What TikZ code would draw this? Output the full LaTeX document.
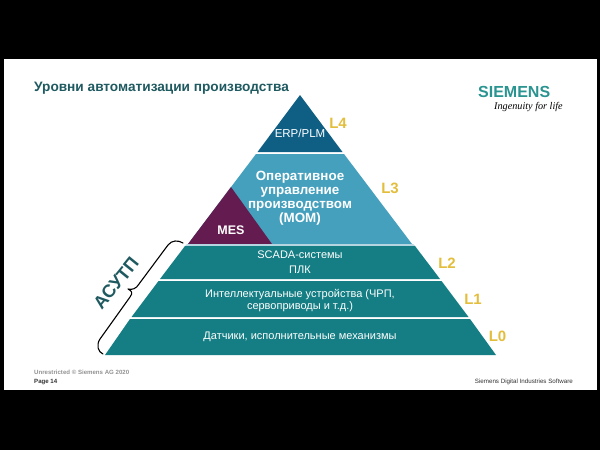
\documentclass[tikz,border=0pt]{standalone}
\usepackage{fontspec}
\setmainfont{Liberation Sans}
\newfontfamily\serifit{Liberation Serif}
\definecolor{erpc}{HTML}{0F5F85}
\definecolor{momc}{HTML}{45A0BE}
\definecolor{mesc}{HTML}{641C50}
\definecolor{tealc}{HTML}{147E84}
\definecolor{gapc}{HTML}{B5D6E0}
\definecolor{goldc}{HTML}{E3BE3C}
\definecolor{titlec}{HTML}{1F5A60}
\definecolor{logoc}{HTML}{2A9490}
\tikzset{
  lay/.style={fill=#1,draw=none},
  fs/.style={font=\fontsize{#1}{#1}\selectfont},
  ptext/.style={text=white,align=center,inner sep=0pt},
  lev/.style={text=goldc,inner sep=0pt,font=\fontsize{15}{15}\selectfont\bfseries},
  foot/.style={inner sep=0pt,anchor=west},
}
\begin{document}
\begin{tikzpicture}[x=1pt,y=-1pt]
\useasboundingbox (0,0) rectangle (600,450);
\fill[black] (0,0) rectangle (600,450);
\fill[white] (4,59) rectangle (597,390);
% layers
\fill[lay=erpc] (300,95) -- (257.5,152) -- (342.5,152) -- cycle;
\fill[lay=momc] (256,154) -- (344,154) -- (412,244) -- (188,244) -- cycle;
\fill[lay=mesc] (231,187) -- (272,244) -- (188,244) -- cycle;
\fill[lay=gapc] (187,244) -- (413,244) -- (415,246) -- (185,246) -- cycle;
\fill[lay=tealc] (185,246) -- (415,246) -- (440,279) -- (160,279) -- cycle;
\fill[lay=tealc] (158.5,281) -- (441.5,281) -- (468.5,317) -- (131.5,317) -- cycle;
\fill[lay=tealc] (130,319) -- (470,319) -- (496,355) -- (105,355) -- cycle;
% labels
\node[ptext,fs=11.5] (erp) at (300,133) {ERP/PLM};
\node[ptext,font=\fontsize{13.4}{14}\selectfont\bfseries] (mom) at (300,198.5) {Оперативное\\управление\\производством\\(MOM)};
\node[ptext,font=\fontsize{12.5}{12.5}\selectfont\bfseries] (mes) at (231,230) {MES};
\node[ptext,fs=11] (scada) at (300,254.5) {SCADA-системы};
\node[ptext,fs=11] (plk) at (300,270) {ПЛК};
\node[ptext,font=\fontsize{11}{12}\selectfont] (ied) at (300,300.5) {Интеллектуальные устройства (ЧРП,\\сервоприводы и т.д.)};
\node[ptext,fs=11] (sens) at (300,337) {Датчики, исполнительные механизмы};
\node[lev] (l4) at (338,123) {L4};
\node[lev] (l3) at (390,188) {L3};
\node[lev] (l2) at (447,263) {L2};
\node[lev] (l1) at (473,299) {L1};
\node[lev] (l0) at (497.5,336) {L0};
% title
\node[inner sep=0pt,anchor=west,text=titlec,font=\fontsize{13.65}{13.65}\selectfont\bfseries] (title) at (34,88) {Уровни автоматизации производства};
% logo
\node[inner sep=0pt,anchor=west,text=logoc,font=\fontsize{16}{16}\selectfont\bfseries] (logo) at (478,92) {SIEMENS};
\node[inner sep=0pt,anchor=west,text=black,font=\fontsize{10.2}{10.2}\selectfont\serifit\itshape] (slogan) at (494,107) {Ingenuity for life};
% brace
\draw[black,line width=1.1pt,line cap=round,line join=round]
  (183,243) .. controls (178,240) and (172,240) .. (168,245)
  -- (139,284) .. controls (136,289) and (132,290) .. (128,289)
  .. controls (132,291) and (133,293) .. (130,297)
  -- (100,339) .. controls (96,345) and (98,352) .. (103,354);
\node[rotate=51,text=titlec,inner sep=0pt,font=\fontsize{18}{18}\selectfont\bfseries] (asutp) at (116,283) {АСУТП};
% footer
\node[foot,text=gray!85,font=\fontsize{6.1}{6.1}\selectfont\bfseries] (unres) at (34,372) {Unrestricted © Siemens AG 2020};
\node[foot,text=black!80,font=\fontsize{6.1}{6.1}\selectfont\bfseries] (page) at (34,382) {Page 14};
\node[inner sep=0pt,anchor=east,text=black!80,font=\fontsize{6.2}{6.2}\selectfont] (sw) at (573,382) {Siemens Digital Industries Software};
\end{tikzpicture}
\end{document}
